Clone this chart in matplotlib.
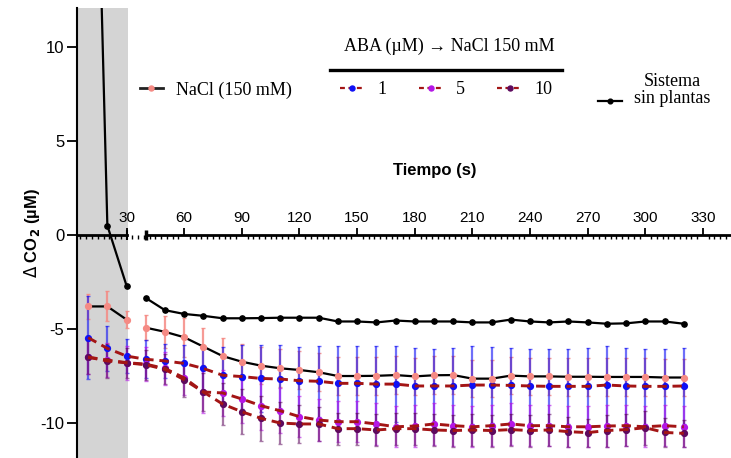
import numpy as np
import matplotlib
matplotlib.use("Agg")
import matplotlib.pyplot as plt
from matplotlib.lines import Line2D
from matplotlib.ticker import MultipleLocator, FixedLocator

plt.rcParams['axes.unicode_minus'] = False
plt.rcParams['font.family'] = ['Liberation Sans', 'DejaVu Sans']
plt.rcParams['mathtext.fontset'] = 'dejavusans'

# ---------------- data ----------------
time_s = [10, 20, 30, 40, 50, 60, 70, 80, 90, 100, 110, 120, 130, 140, 150, 160,
          170, 180, 190, 200, 210, 220, 230, 240, 250, 260, 270, 280, 290, 300, 310, 320]

sistema = [40.0, 0.5, -2.7, -3.35, -4.0, -4.2, -4.3, -4.43, -4.43, -4.42, -4.4, -4.4,
           -4.4, -4.6, -4.6, -4.65, -4.55, -4.6, -4.6, -4.6, -4.65, -4.65, -4.5, -4.6,
           -4.65, -4.6, -4.65, -4.72, -4.7, -4.6, -4.6, -4.72]

nacl = [-3.8, -3.8, -4.5, -4.93, -5.15, -5.44, -5.94, -6.44, -6.74, -6.95, -7.09, -7.18,
        -7.3, -7.5, -7.5, -7.49, -7.45, -7.52, -7.46, -7.45, -7.64, -7.64, -7.48, -7.52,
        -7.52, -7.54, -7.54, -7.55, -7.55, -7.55, -7.58, -7.58]
nacl_err = [0.65, 0.8, 0.45, 0.65, 0.85, 1.05, 1.0, 0.95, 0.95, 1.0, 1.0, 1.0,
            1.0, 1.0, 1.0, 1.0, 1.0, 1.0, 1.0, 1.0, 1.0, 1.0, 1.0, 1.0,
            1.0, 1.0, 1.0, 1.0, 1.0, 1.0, 1.0, 1.0]

aba1 = [-5.46, -6.03, -6.44, -6.61, -6.7, -6.83, -7.1, -7.46, -7.53, -7.63, -7.66, -7.75,
        -7.78, -7.89, -7.89, -7.93, -7.93, -8.03, -8.03, -8.03, -7.98, -7.98, -8.0, -8.03,
        -8.05, -8.05, -8.05, -7.98, -8.03, -8.05, -8.05, -8.03]
aba1_err = [2.2, 1.2, 0.9, 1.0, 0.9, 1.0, 1.2, 1.5, 1.7, 1.8, 1.8, 1.8,
            1.9, 2.0, 2.0, 2.0, 2.0, 2.0, 1.95, 2.0, 2.05, 2.0, 2.0, 1.95,
            2.0, 2.0, 2.05, 2.05, 2.0, 2.0, 2.0, 2.0]

aba5 = [-6.5, -6.65, -6.79, -6.87, -7.1, -7.6, -8.35, -8.4, -8.72, -9.08, -9.35, -9.66,
        -9.84, -9.93, -9.93, -10.05, -10.2, -10.16, -10.05, -10.14, -10.2, -10.14, -10.05, -10.14,
        -10.14, -10.2, -10.2, -10.16, -10.14, -10.2, -10.14, -10.2]
aba5_err = [0.9, 0.9, 0.9, 0.9, 0.9, 0.9, 1.1, 1.2, 1.3, 1.3, 1.2, 1.1,
            1.1, 1.1, 1.1, 1.1, 1.1, 1.1, 1.1, 1.1, 1.1, 1.1, 1.1, 1.1,
            1.1, 1.1, 1.1, 1.1, 1.1, 1.1, 1.1, 1.1]

aba10 = [-6.5, -6.7, -6.8, -6.9, -7.15, -7.7, -8.35, -8.99, -9.4, -9.75, -10.0, -10.05,
         -10.05, -10.3, -10.3, -10.37, -10.3, -10.3, -10.37, -10.4, -10.37, -10.4, -10.35, -10.4,
         -10.37, -10.46, -10.51, -10.4, -10.35, -10.25, -10.5, -10.55]
aba10_err = [0.9, 0.9, 0.8, 0.8, 0.8, 0.9, 1.0, 1.1, 1.2, 1.2, 1.1, 1.0,
             0.9, 0.85, 0.85, 0.85, 0.85, 0.85, 0.85, 0.85, 0.85, 0.85, 0.85, 0.85,
             0.85, 0.8, 0.75, 0.85, 0.85, 0.9, 0.75, 0.7]

x_ticks = [30, 60, 90, 120, 150, 180, 210, 240, 270, 300, 330]
y_ticks = [-10, -5, 0, 5, 10]
shade_end = 31          # end of grey pre-treatment band
gap_from, gap_to = 30, 40   # broken axis / solid-line gap

# ---------------- styles ----------------
c_nacl = '#F58A84'
c_blue = '#1010F5'
c_mag = '#B416E6'
c_dpur = '#5E0A5E'
c_dash = '#A31515'

fig = plt.figure(figsize=(7.31, 4.58), dpi=100)
ax = fig.add_axes([77 / 731, 0.0, 1 - 77 / 731, 1 - 8 / 458])
xmin, xmax = 4.2, 344.6
ax.set_xlim(xmin, xmax)
ax.set_ylim(-11.86, 12.07)

ax.axvspan(xmin, shade_end, color='#D4D4D4', zorder=0, lw=0)

t = np.array(time_s, dtype=float)

def seg(vals):
    v = np.array(vals, dtype=float)
    a = t <= gap_from
    b = t >= gap_to
    return (t[a], v[a]), (t[b], v[b])

eb_kw = dict(fmt='none', elinewidth=1.6, capsize=1.6, capthick=1.0, zorder=2)
ax.errorbar(t, nacl, yerr=nacl_err, ecolor=c_nacl, alpha=0.85, **eb_kw)
ax.errorbar(t, aba1, yerr=aba1_err, ecolor=c_blue, alpha=0.6, **eb_kw)
ax.errorbar(t, aba5, yerr=aba5_err, ecolor=c_mag, alpha=0.6, **eb_kw)
ax.errorbar(t, aba10, yerr=aba10_err, ecolor=c_dpur, alpha=0.55, **eb_kw)

ms = 4.2
for vals, col in [(aba1, c_blue), (aba5, c_mag), (aba10, c_dpur)]:
    ax.plot(t, vals, ls='none', marker='o', ms=ms, mfc=col, mec=col, zorder=3)
    ax.plot(t, vals, color=c_dash, lw=2.1, dashes=(3.2, 2.0), zorder=4)

for part in seg(nacl):
    ax.plot(part[0], part[1], color='black', lw=1.6, zorder=4)
ax.plot(t, nacl, ls='none', marker='o', ms=ms, mfc=c_nacl, mec=c_nacl, zorder=5)

for part in seg(sistema):
    ax.plot(part[0], part[1], color='black', lw=1.6, marker='o', ms=3.8, zorder=5)

# ---------------- axes styling ----------------
ax.spines['right'].set_visible(False)
ax.spines['bottom'].set_visible(False)
ax.spines['left'].set_linewidth(1.5)
ax.spines['top'].set_position(('data', 0))
ax.spines['top'].set_bounds(gap_to, xmax)
ax.spines['top'].set_linewidth(2.0)
ax.plot([xmin, gap_from], [0, 0], color='black', lw=2.0, zorder=6, clip_on=False)
ax.vlines([gap_from, gap_to], -0.28, 0.28, color='black', lw=[1.5, 2.5], zorder=6)

ax.xaxis.set_ticks_position('top')
ax.xaxis.set_label_position('top')
ax.xaxis.set_major_locator(FixedLocator(x_ticks))
ax.xaxis.set_minor_locator(MultipleLocator(3))
ax.tick_params(axis='x', which='major', direction='out', length=5, width=1.3,
               labelsize=11, pad=2)
ax.tick_params(axis='x', which='minor', direction='in', length=3, width=1.0)
ax.set_xticklabels([str(v) for v in x_ticks])

ax.set_yticks(y_ticks)
ax.set_yticklabels([str(v) for v in y_ticks])
ax.tick_params(axis='y', which='major', direction='out', length=7, width=1.3,
               labelsize=12, pad=2)

ax.set_xlabel('Tiempo (s)', fontsize=12, fontweight='bold')
ax.xaxis.label.set_va('center')
ax.xaxis.set_label_coords((435 - 77) / 654, (458 - 170) / 450)
ax.set_ylabel(r'$\Delta$ CO$_\mathbf{2}$ (µM)', fontsize=12, fontweight='bold', labelpad=-1)

# ---------------- legends ----------------
serif = dict(family=['Liberation Serif', 'DejaVu Serif'], size=13)

def fx(px):
    return px / 731

def fy(py):
    return 1 - py / 458

h_nacl = Line2D([], [], color='#222222', lw=2.0, marker='o', ms=3.6, mfc=c_nacl, mec=c_nacl)
leg1 = ax.legend([h_nacl], ['NaCl (150 mM)'], loc='center left',
                 bbox_to_anchor=(fx(140), fy(90)), bbox_transform=fig.transFigure,
                 frameon=False, prop=serif, borderpad=0, handlelength=1.27,
                 handletextpad=0.72, borderaxespad=0)
ax.add_artist(leg1)

h_aba = [Line2D([], [], color=c_dash, lw=1.6, dashes=(2.2, 1.6), marker='o', ms=3.6,
                mfc=c, mec=c) for c in (c_blue, c_mag, c_dpur)]
leg2 = ax.legend(h_aba, ['1', '5', '10'], loc='center left', ncol=3,
                 bbox_to_anchor=(fx(340), fy(90)), bbox_transform=fig.transFigure,
                 frameon=False, prop=serif, borderpad=0, handlelength=1.38,
                 handletextpad=0.67, columnspacing=1.8, borderaxespad=0)
ax.add_artist(leg2)

h_sis = Line2D([], [], color='black', lw=1.6, marker='o', ms=3.4)
leg3 = ax.legend([h_sis], ['Sistema\nsin plantas'], loc='center left',
                 bbox_to_anchor=(fx(598), fy(90)), bbox_transform=fig.transFigure,
                 frameon=False, prop=serif, borderpad=0, handlelength=1.33,
                 handletextpad=0.67, borderaxespad=0)
for txt in leg3.get_texts():
    txt.set_multialignment('center')
    txt.set_linespacing(1.0)
for col in leg3._legend_handle_box.get_children():
    for row in col.get_children():
        row.align = 'bottom'

fig.text(fx(449), fy(46), 'ABA (µM) → NaCl 150 mM', ha='center', va='center',
         fontfamily=['Liberation Serif', 'DejaVu Serif'], fontsize=13)
fig.add_artist(Line2D([fx(330), fx(562)], [fy(70), fy(70)], transform=fig.transFigure,
                      color='black', lw=2.4))

fig.savefig('out.png', dpi=100)
